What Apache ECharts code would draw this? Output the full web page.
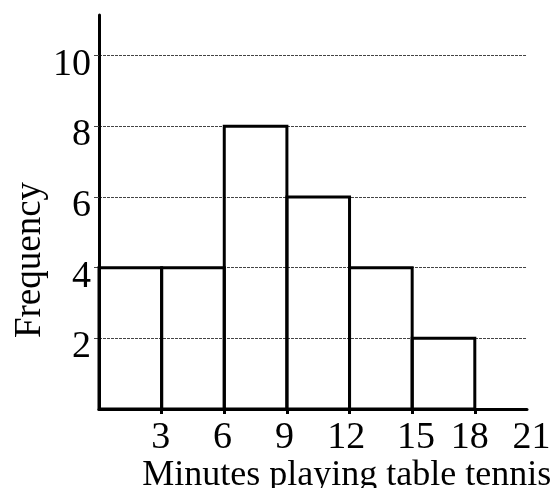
<!DOCTYPE html>
<html><head><meta charset="utf-8">
<script src="https://cdn.jsdelivr.net/npm/echarts@6/dist/echarts.min.js"></script>
<style>html,body{margin:0;padding:0;background:#fff}#c{width:554px;height:488px}</style>
</head><body><div id="c"></div>
<script>
const binStart = [0, 3, 6, 9, 12, 15];
const binEnd = [3, 6, 9, 12, 15, 18];
const frequency = [4, 4, 8, 6, 4, 2];
const xTicks = [3, 6, 9, 12, 15, 18, 21];
const yTicks = [2, 4, 6, 8, 10];
const xTitle = 'Minutes playing table tennis';
const yTitle = 'Frequency';

const font = 'Liberation Serif';
const chart = echarts.init(document.getElementById('c'), null, {renderer: 'canvas'});
const data = binStart.map((s, i) => [s, binEnd[i], frequency[i]]);
const option = {
  animation: false,
  backgroundColor: '#fff',
  grid: [
    {left: 99, top: 15, width: 428, height: 394, containLabel: false, outerBoundsMode: 'none'},
    {left: 99, top: 15, width: 432.6, height: 394, containLabel: false, outerBoundsMode: 'none'}
  ],
  xAxis: [
    {gridIndex: 0, type: 'value', min: 0, max: 20.5, interval: 3,
     axisLine: {lineStyle: {color: '#000', width: 3}},
     axisTick: {show: true, length: 5, customValues: binEnd, lineStyle: {width: 3, color: '#000'}},
     axisLabel: {show: false}, splitLine: {show: false}},
    {gridIndex: 1, type: 'value', min: 0, max: 21, interval: 3,
     axisLine: {show: false}, axisTick: {show: false}, splitLine: {show: false},
     axisLabel: {fontFamily: font, fontSize: 38, color: '#000', margin: 10,
       formatter: v => !xTicks.includes(v) ? '' : (v === 15 ? '{s|' + v + '}' : String(v)),
       rich: {s: {fontFamily: font, fontSize: 38, color: '#000', padding: [0, 0, 0, 16]}}},
     name: xTitle, nameLocation: 'middle', nameGap: 49, nameMoveOverlap: false,
     nameTextStyle: {fontFamily: font, fontSize: 36, color: '#000', padding: [0, 0, 0, 63]}}
  ],
  yAxis: [
    {gridIndex: 0, type: 'value', min: 0, max: 11.15, interval: 2,
     axisLine: {show: true, lineStyle: {color: '#000', width: 3}},
     axisTick: {show: true, length: 5, customValues: yTicks, lineStyle: {width: 1, color: '#444'}},
     axisLabel: {fontFamily: font, fontSize: 38, color: '#000', margin: 8,
       formatter: v => yTicks.includes(v) ? '{d|' + v + '}' : '',
       rich: {d: {fontFamily: font, fontSize: 38, color: '#000', padding: [18, 0, 0, 0]}}},
     splitLine: {show: true, lineStyle: {color: '#444', width: 1, type: [3, 1]}},
     name: yTitle, nameLocation: 'middle', nameGap: 50, nameMoveOverlap: false,
     nameTextStyle: {fontFamily: font, fontSize: 37, color: '#000', padding: [0, 96, 0, 0]}},
    {gridIndex: 1, type: 'value', min: 0, max: 11.15, show: false}
  ],
  series: [{
    type: 'custom',
    xAxisIndex: 0, yAxisIndex: 0,
    clip: false,
    encode: {x: [0, 1], y: 2},
    data: data,
    renderItem: (params, api) => {
      const p0 = api.coord([api.value(0), api.value(2)]);
      const p1 = api.coord([api.value(1), 0]);
      return {type: 'rect',
        shape: {x: p0[0], y: p0[1], width: p1[0] - p0[0], height: p1[1] - p0[1]},
        style: {fill: 'none', stroke: '#000', lineWidth: 3}};
    }
  }]
};
chart.setOption(option);
</script></body></html>
